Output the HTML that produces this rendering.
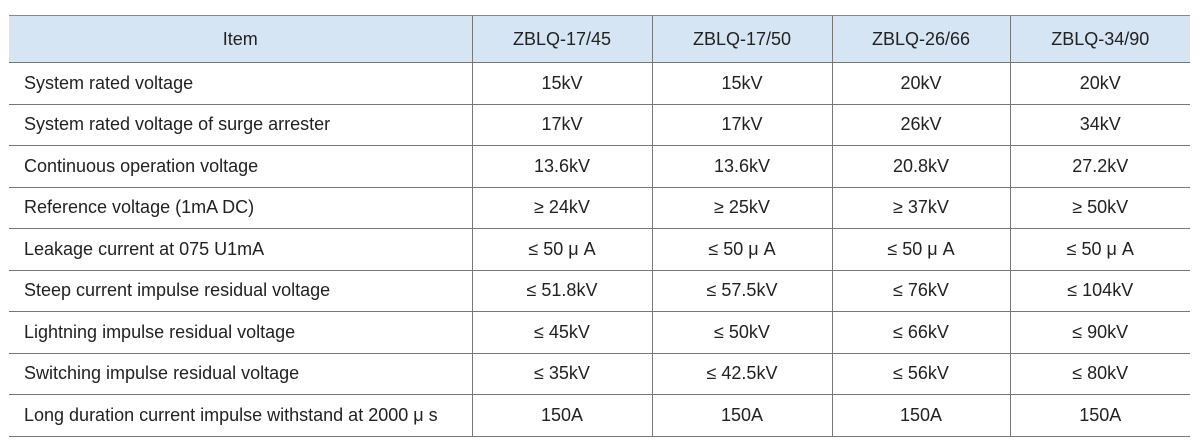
<!DOCTYPE html><html><head><style>
body{margin:0;background:#fff;width:1200px;height:446px;overflow:hidden;font-family:"Liberation Sans",Arial,sans-serif;font-size:18px;color:#222}
table{position:absolute;left:9px;top:15px;width:1181px;border-collapse:collapse;table-layout:fixed}
td,th{border-top:1px solid #777;border-bottom:1px solid #777;border-left:1px solid #777;text-align:center;font-weight:normal;height:40.5px;padding:0;white-space:nowrap}
th{background:#d6e5f3;height:46px}
td:first-child,th:first-child{border-left:none}
td:first-child{text-align:left;padding-left:15px}
tr:first-child th{border-top:1px solid #888}
</style></head><body>
<table>
<colgroup><col style="width:463px"><col style="width:180px"><col style="width:180px"><col style="width:178px"><col style="width:180px"></colgroup>
<tr><th>Item</th><th>ZBLQ-17/45</th><th>ZBLQ-17/50</th><th>ZBLQ-26/66</th><th>ZBLQ-34/90</th></tr>
<tr><td>System rated voltage</td><td>15kV</td><td>15kV</td><td>20kV</td><td>20kV</td></tr>
<tr><td>System rated voltage of surge arrester</td><td>17kV</td><td>17kV</td><td>26kV</td><td>34kV</td></tr>
<tr><td>Continuous operation voltage</td><td>13.6kV</td><td>13.6kV</td><td>20.8kV</td><td>27.2kV</td></tr>
<tr><td>Reference voltage (1mA DC)</td><td>≥ 24kV</td><td>≥ 25kV</td><td>≥ 37kV</td><td>≥ 50kV</td></tr>
<tr><td>Leakage current at 075 U1mA</td><td>≤ 50 μ A</td><td>≤ 50 μ A</td><td>≤ 50 μ A</td><td>≤ 50 μ A</td></tr>
<tr><td>Steep current impulse residual voltage</td><td>≤ 51.8kV</td><td>≤ 57.5kV</td><td>≤ 76kV</td><td>≤ 104kV</td></tr>
<tr><td>Lightning impulse residual voltage</td><td>≤ 45kV</td><td>≤ 50kV</td><td>≤ 66kV</td><td>≤ 90kV</td></tr>
<tr><td>Switching impulse residual voltage</td><td>≤ 35kV</td><td>≤ 42.5kV</td><td>≤ 56kV</td><td>≤ 80kV</td></tr>
<tr><td>Long duration current impulse withstand at 2000 μ s</td><td>150A</td><td>150A</td><td>150A</td><td>150A</td></tr>
</table>
</body></html>
